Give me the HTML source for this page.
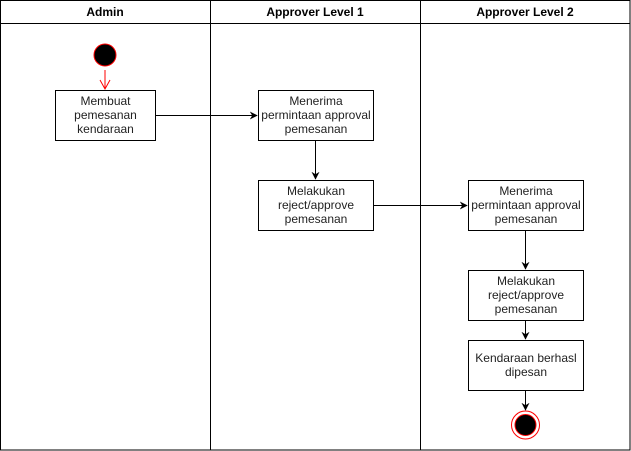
<!DOCTYPE html>
<html><head><style>body{margin:0;background:#fff}svg{display:block}</style></head><body>
<svg width="631" height="451" xmlns="http://www.w3.org/2000/svg" font-family="Liberation Sans, sans-serif" font-size="12">
<defs><marker id="a" viewBox="0 0 10 10" refX="9" refY="5" markerWidth="8" markerHeight="8" markerUnits="userSpaceOnUse" orient="auto"><path d="M0,0 L10,5 L0,10 L3,5 z" fill="#000"/></marker></defs>
<rect x="0.5" y="0.5" width="629.5" height="449.5" fill="#fff" stroke="#000"/>
<line x1="0" y1="23.5" x2="630" y2="23.5" stroke="#000"/>
<line x1="210.5" y1="0" x2="210.5" y2="450" stroke="#000"/>
<line x1="420.5" y1="0" x2="420.5" y2="450" stroke="#000"/>
<g font-weight="bold" text-anchor="middle">
<text x="105" y="16">Admin</text><text x="315" y="16">Approver Level 1</text><text x="525" y="16">Approver Level 2</text></g>
<circle cx="105" cy="55" r="11" fill="#000" stroke="#f00"/>
<line x1="105" y1="70" x2="105" y2="89" stroke="#f00"/>
<path d="M100,80 L105,89 L110,80" fill="none" stroke="#f00"/>
<g fill="#fff" stroke="#000">
<rect x="55.5" y="90.5" width="100" height="50"/>
<rect x="258.5" y="90.5" width="115" height="50"/>
<rect x="258.5" y="180.5" width="115" height="50"/>
<rect x="468.5" y="180.5" width="115" height="50"/>
<rect x="468.5" y="270.5" width="115" height="50"/>
<rect x="468.5" y="340.5" width="115" height="50"/>
</g>
<g stroke="#000" marker-end="url(#a)">
<line x1="155" y1="115.5" x2="257" y2="115.5"/>
<line x1="315.5" y1="140" x2="315.5" y2="179"/>
<line x1="373" y1="205.5" x2="467" y2="205.5"/>
<line x1="525.5" y1="230" x2="525.5" y2="269"/>
<line x1="525.5" y1="320" x2="525.5" y2="339"/>
<line x1="525.5" y1="390" x2="525.5" y2="410"/>
</g>
<circle cx="525.5" cy="425" r="14" fill="#fff" stroke="#f00"/>
<circle cx="525.5" cy="425" r="10.5" fill="#000" stroke="#f00"/>
<g text-anchor="middle" fill="#222">
<text x="105.5" y="105">Membuat</text><text x="105.5" y="119">pemesanan</text><text x="105.5" y="133">kendaraan</text>
<text x="316" y="105">Menerima</text><text x="316" y="119">permintaan approval</text><text x="316" y="133">pemesanan</text>
<text x="316" y="195">Melakukan</text><text x="316" y="209">reject/approve</text><text x="316" y="223">pemesanan</text>
<text x="526" y="195">Menerima</text><text x="526" y="209">permintaan approval</text><text x="526" y="223">pemesanan</text>
<text x="526" y="285">Melakukan</text><text x="526" y="299">reject/approve</text><text x="526" y="313">pemesanan</text>
<text x="526" y="362">Kendaraan berhasl</text><text x="526" y="376">dipesan</text>
</g>
</svg>
</body></html>
